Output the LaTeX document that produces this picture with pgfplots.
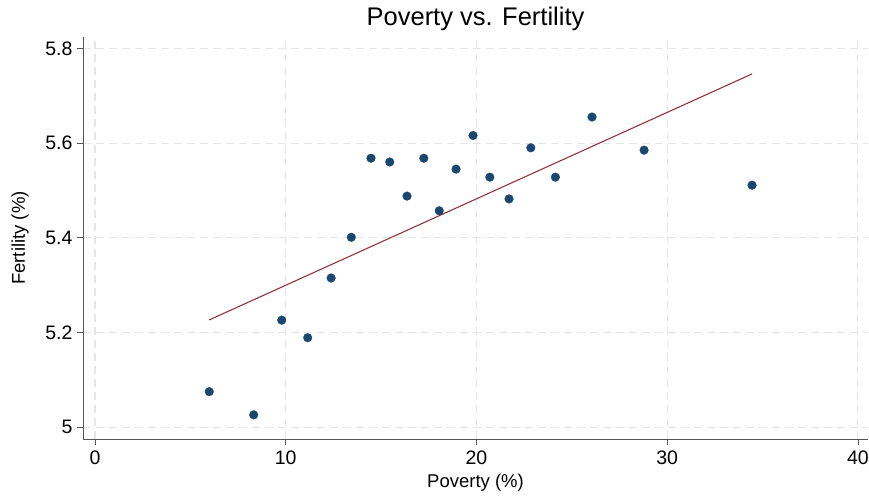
\documentclass[border=0pt]{standalone}
\usepackage{fontspec}
\setmainfont{Liberation Sans}
\usepackage{pgfplots}
\pgfplotsset{compat=1.18}
\definecolor{stnavy}{HTML}{1A476F}
\definecolor{stmaroon}{HTML}{90353B}
\definecolor{gridc}{HTML}{E6E6E6}
\definecolor{axc}{HTML}{555555}
\begin{document}
\begin{tikzpicture}[x=1pt,y=1pt]
\begin{axis}[
  at={(0,0)}, anchor=south west,
  scale only axis, width=785pt, height=402pt,
  xmin=-0.63, xmax=40.53, ymin=4.975, ymax=5.824,
  axis x line*=bottom, axis y line*=left,
  axis line style={-, draw=axc, line width=0.8pt},
  xtick={0,10,20,30,40},
  ytick={5,5.2,5.4,5.6,5.8},
  yticklabels={5,5.2,5.4,5.6,5.8},
  tick align=outside, major tick length=6pt,
  tick style={draw=axc, line width=0.8pt},
  grid=major,
  major grid style={draw=gridc, dash pattern=on 8pt off 5pt, line width=1.1pt},
  /pgf/number format/assume math mode=true,
  ticklabel style={font=\fontsize{19.5}{22}\selectfont},
  xticklabel style={yshift=-2pt},
  yticklabel style={xshift=-1pt},
  xlabel={Poverty (\%)}, ylabel={Fertility (\%)},
  label style={font=\fontsize{18.5}{22}\selectfont},
  xlabel style={at={(axis description cs:0.5,0)}, anchor=center, yshift=-44pt},
  ylabel style={at={(axis description cs:0,0.5)}, anchor=center, rotate=0, yshift=63pt},
  title={Poverty vs. Fertility},
  title style={font=\fontsize{25.5}{30}\selectfont, at={(axis description cs:0.5,1)}, anchor=center, yshift=12pt},
  clip=false,
]
\addplot[only marks, mark=*, mark size=4.4pt, mark options={fill=stnavy, draw=stnavy, line width=0.2pt}] coordinates {
(5.99,5.075) (8.32,5.026) (9.79,5.226) (11.15,5.189) (12.38,5.315)
(13.44,5.401) (14.47,5.568) (15.45,5.560) (16.36,5.488) (17.24,5.568)
(18.05,5.457) (18.93,5.545) (19.82,5.616) (20.70,5.528) (21.71,5.482)
(22.85,5.590) (24.14,5.528) (26.06,5.655) (28.79,5.585) (34.45,5.511)
};
\addplot[stmaroon, line width=1.1pt] coordinates {(5.99,5.2265) (34.45,5.746)};
\end{axis}
\pgfresetboundingbox
\path (-83,-58) rectangle (786,439);
\end{tikzpicture}
\end{document}
